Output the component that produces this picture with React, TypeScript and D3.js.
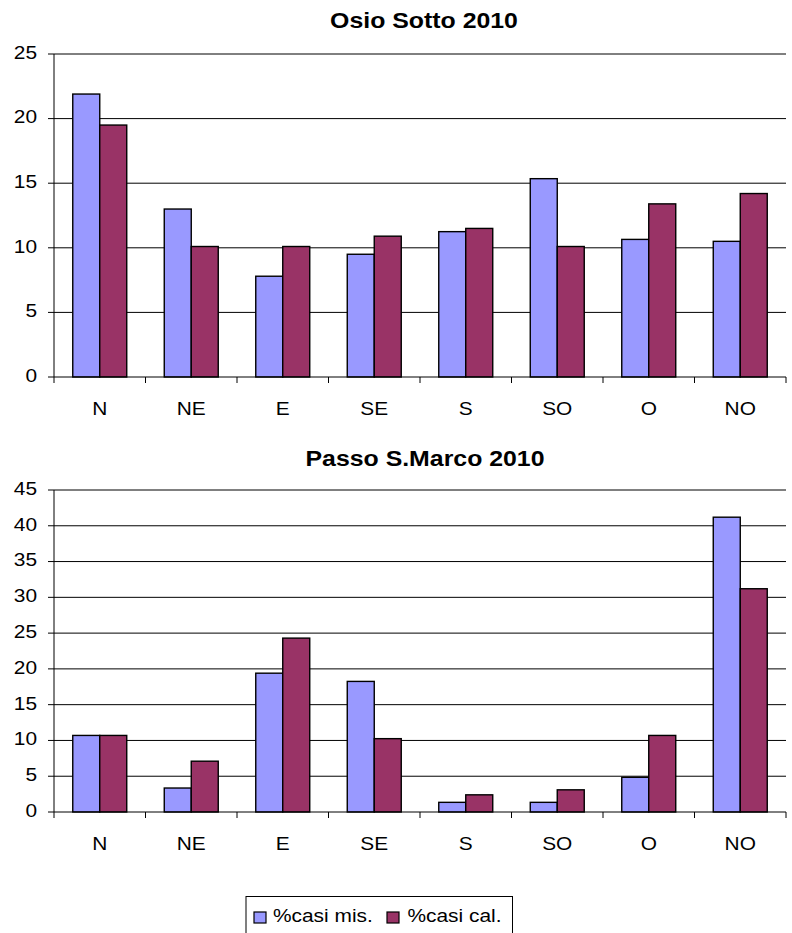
import React from "react"
import * as d3 from "d3"

const categories = ["N", "NE", "E", "SE", "S", "SO", "O", "NO"]
const seriesNames = ["%casi mis.", "%casi cal."]
const colors = ["#9999FF", "#993366"]

const osioMis = [21.9, 13.0, 7.8, 9.5, 11.25, 15.35, 10.65, 10.5]
const osioCal = [19.5, 10.1, 10.1, 10.9, 11.5, 10.1, 13.4, 14.2]
const osioTicks = [0, 5, 10, 15, 20, 25]

const passoMis = [10.7, 3.35, 19.4, 18.25, 1.35, 1.35, 4.85, 41.2]
const passoCal = [10.7, 7.1, 24.3, 10.25, 2.4, 3.1, 10.7, 31.2]
const passoTicks = [0, 5, 10, 15, 20, 25, 30, 35, 40, 45]

const FONT = "'Liberation Sans', Arial, sans-serif"
// the reference text is a little wider than it is tall
const STRETCH = 1.13

function Txt({ x, y, size, anchor = "start", bold = false, children }:
  { x: number; y: number; size: number; anchor?: string; bold?: boolean; children: React.ReactNode }) {
  return (
    <text transform={`translate(${x},${y}) scale(${STRETCH},1)`} textAnchor={anchor}
      dominantBaseline="middle" fontFamily={FONT} fontSize={size} fontWeight={bold ? "bold" : "normal"}>
      {children}
    </text>
  )
}

type ChartProps = {
  title: string
  titleX: number
  titleY: number
  mis: number[]
  cal: number[]
  ticks: number[]
  top: number
  bottom: number
  labelY: number
}

function BarChart({ title, titleX, titleY, mis, cal, ticks, top, bottom, labelY }: ChartProps) {
  const left = 54
  const right = 786
  const x = d3.scaleBand<string>().domain(categories).range([left, right])
  const group = x.bandwidth() * 0.59
  const inner = d3.scaleBand<number>().domain([0, 1]).range([0, group])
  const off = (x.bandwidth() - group) / 2
  const y = d3.scaleLinear().domain([0, d3.max(ticks) as number]).range([bottom, top])
  const series = [mis, cal]
  const edges = categories.map(c => x(c) as number).concat([right])

  return (
    <g>
      <Txt x={titleX} y={titleY} size={22} anchor="middle" bold>{title}</Txt>
      {ticks.map(t => (
        <g key={t}>
          {t > 0 && <line x1={left} x2={right} y1={y(t)} y2={y(t)} stroke="#000" strokeWidth={1} />}
          <line x1={left - 6} x2={left} y1={y(t)} y2={y(t)} stroke="#000" strokeWidth={1} />
          <Txt x={37} y={y(t)} size={18.5} anchor="end">{t}</Txt>
        </g>
      ))}
      {categories.map((c, i) =>
        series.map((s, k) => (
          <rect key={c + k}
            x={(x(c) as number) + off + (inner(k) as number)}
            y={y(s[i])}
            width={inner.bandwidth()}
            height={y(0) - y(s[i])}
            fill={colors[k]} stroke="#000" strokeWidth={1.4} />
        ))
      )}
      <line x1={left} x2={left} y1={top} y2={bottom} stroke="#000" strokeWidth={1} />
      <line x1={left} x2={right} y1={bottom} y2={bottom} stroke="#000" strokeWidth={1} />
      {edges.map((e, i) => (
        <line key={i} x1={e} x2={e} y1={bottom} y2={bottom + 6} stroke="#000" strokeWidth={1} />
      ))}
      {categories.map(c => (
        <Txt key={c} x={(x(c) as number) + x.bandwidth() / 2} y={labelY} size={18.5} anchor="middle">{c}</Txt>
      ))}
    </g>
  )
}

export default function App() {
  return (
    <svg width={792} height={933} style={{ position: "absolute", left: 0, top: 0, background: "#fff" }}>
      <rect width={792} height={933} fill="#fff" />
      <BarChart title="Osio Sotto 2010" titleX={424} titleY={22} mis={osioMis} cal={osioCal}
        ticks={osioTicks} top={54} bottom={377} labelY={410} />
      <BarChart title="Passo S.Marco 2010" titleX={425} titleY={460} mis={passoMis} cal={passoCal}
        ticks={passoTicks} top={490} bottom={812} labelY={845} />
      <g>
        <rect x={246} y={896.5} width={266.5} height={40} fill="#fff" stroke="#000" strokeWidth={1} />
        {seriesNames.map((n, k) => (
          <g key={n}>
            <rect x={k === 0 ? 254 : 387} y={912} width={12} height={11} fill={colors[k]} stroke="#000" strokeWidth={1.2} />
            <Txt x={k === 0 ? 273 : 407.5} y={917.5} size={18.5}>{n}</Txt>
          </g>
        ))}
      </g>
    </svg>
  )
}
